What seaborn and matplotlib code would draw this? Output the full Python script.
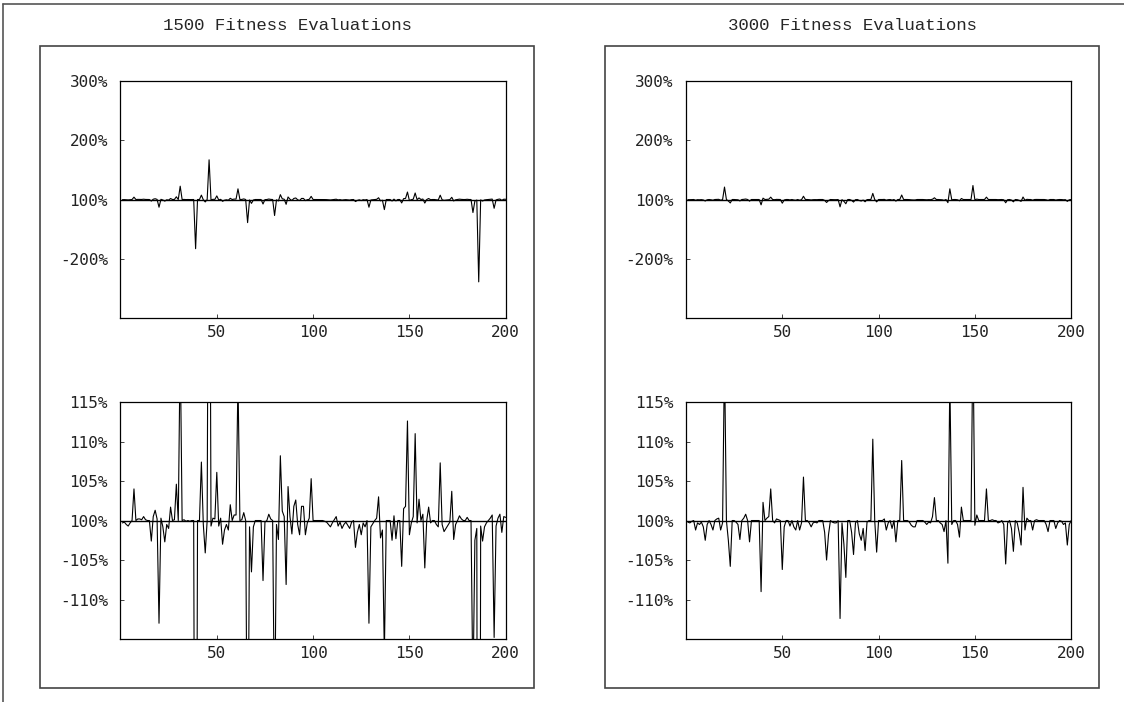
import numpy as np
import pandas as pd
import seaborn as sns
import matplotlib.pyplot as plt
from matplotlib.patches import Rectangle
from matplotlib.lines import Line2D

# deviation from the 100% baseline, generations 1..200
dev_1500 = [
    -0.3, -0.2, -0.5, -0.7, -0.3, 0, 4.0, 0, 0.2, 0.2,
    0.1, 0.5, 0.1, 0, 0, -2.6, 0.5, 1.3, 0.2, -13,
    0.3, -0.8, -2.7, -0.5, -1.0, 1.7, 0, 0.1, 4.6, 0,
    22.5, 0, 0.1, -0.1, 0, -0.1, 0, 0, -83, 0,
    0, 7.4, -0.5, -4.1, 0, 67, -0.7, 0.3, 0.2, 6.1,
    -0.7, 0.3, -3.0, -1.2, -0.5, -1.2, 2.0, 0, 0.7, 0.7,
    18, 0, 0.1, 1.0, 0, -39, -0.8, -6.5, -0.8, 0,
    0, 0, 0, -7.6, -0.2, 0, 0.8, 0.2, 0, -27,
    -0.5, -2.4, 8.2, 1.2, 0.5, -8.1, 4.3, 0.5, -1.7, 1.8,
    2.6, -0.5, -1.8, 1.8, 1.8, -1.8, -0.3, 0.3, 5.3, 0,
    0, 0, 0, 0, 0, -0.1, -0.2, -0.5, -0.8, -0.3,
    0.1, 0.5, -0.7, -0.2, -1.0, -0.5, -0.2, -0.6, -1.0, -0.2,
    0, -3.4, -1.5, -0.5, -1.8, -0.3, -0.8, 0, -13, -0.8,
    -0.4, 0, 0.3, 3.0, -2.2, -1.2, -17, 0, 0, 0,
    -2.5, 0.6, -2.3, 0, 0, -5.8, 1.5, 1.8, 12.6, -1.8,
    -0.3, 0.5, 11, -0.3, 2.7, 0, 0.8, -6, 0, 1.7,
    -0.3, 0, 0, -0.5, -0.8, 7.3, -0.5, -1.4, -1.0, -0.6,
    -0.2, 3.7, -2.4, -0.5, 0, 0.6, 0.2, 0, 0, 0.4,
    0, 0, -22, -2.5, -1, -139, -0.7, -2.6, -0.8, -0.3,
    0, 0.3, 0.7, -14.8, -0.7, 0.3, 0.8, -1.5, 0.5, 0.4,
]
dev_3000 = [
    -0.2, -0.3, -0.1, 0, -1.2, -0.3, -0.5, -0.2, -0.8, -2.5,
    -0.5, 0, -0.5, -1.2, 0, 0.2, 0.3, -1.2, -0.3, 21,
    0, -2.5, -5.8, 0, 0, -0.2, -0.5, -2.4, 0, 0.3,
    0.8, 0, -2.7, 0, 0, 0, 0, 0, -9, 2.3,
    0, 0.3, 0.5, 4, 0, -0.3, 0.2, 0.1, 0, -6.2,
    -0.8, 0, 0, -0.7, 0, -0.8, -1.2, 0, -1.2, -0.3,
    5.5, 0, 0, -0.3, -0.8, -0.3, -0.2, -0.3, 0, 0,
    0, -1.5, -5, -1.8, 0, -0.2, -0.3, -0.3, 0, -12.4,
    -0.3, -3, -7.2, 0, 0, -1.5, -4.3, -0.3, 0, -1.7,
    -2.5, -1, -3.8, -0.2, 0, 0, 10.3, 0, -4, 0,
    0, 0, 0.2, -1.2, -0.3, 0, -1, 0, -2.7, 0,
    0, 7.6, 0, 0, 0, -0.2, -0.6, -0.8, -0.8, 0,
    0, 0, 0, -0.2, -0.5, -0.2, -0.3, 0.5, 2.9, 0,
    0, -0.3, -0.5, -1.4, 0, -5.4, 18, -0.5, 0, 0,
    -0.5, -2.1, 1.7, 0, 0, 0, 0, 0, 23.6, -0.6,
    0.7, 0, 0, 0, 0, 4, 0, 0, 0.1, 0,
    0, -0.3, -0.2, 0, -0.5, -5.5, -0.3, 0, -1, -3.9,
    0, -0.3, -1.5, -3.1, 4.2, -1.2, 0.3, 0, 0, -1.2,
    0, 0.1, 0, 0, 0, 0, -0.5, -1.4, 0, 0,
    0, -1, -0.3, 0, -0.1, -0.5, -0.3, -3.1, -0.5, 0,
]
generation = np.arange(1, 201)

titles = ["1500 Fitness Evaluations", "3000 Fitness Evaluations"]
x_ticks = [50, 100, 150, 200]
top_ticks = [200, 100, 0, -100]
top_labels = ["300%", "200%", "100%", "-200%"]
low_ticks = [15, 10, 5, 0, -5, -10]
low_labels = ["115%", "110%", "105%", "100%", "-105%", "-110%"]

df = pd.DataFrame({"generation": np.tile(generation, 2),
                   "dev": dev_1500 + dev_3000,
                   "run": np.repeat(titles, 200)})

sns.set_style("white")
plt.rcParams["font.family"] = ["DejaVu Sans Mono", "DejaVu Sans"]

fig = plt.figure(figsize=(11.24, 7.02), dpi=100)

# frame around the whole page (only top and left visible)
fig.add_artist(Line2D([0.0027, 1.0], [0.9943, 0.9943], transform=fig.transFigure,
                      color="#555555", lw=1.2))
fig.add_artist(Line2D([0.0027, 0.0027], [0.0, 0.9943], transform=fig.transFigure,
                      color="#555555", lw=1.2))

box_left = [0.0356, 0.5385]
ax_left = [0.1072, 0.6103]

for k, run in enumerate(titles):
    fig.add_artist(Rectangle((box_left[k], 0.0199), 0.4395, 0.9146,
                             transform=fig.transFigure, fill=False,
                             edgecolor="#444444", lw=1.2))
    fig.text(box_left[k] + 0.4395 / 2, 1 - 25 / 702, run, ha="center", va="center",
             fontsize=12.5, family="Liberation Mono")

    sub = df[df["run"] == run]
    for bottom, lim, ticks, labels in [(0.547, 200, top_ticks, top_labels),
                                       (0.0897, 15, low_ticks, low_labels)]:
        ax = fig.add_axes([ax_left[k], bottom, 0.3427, 0.3376])
        ax.axhline(0, color="black", lw=1.0, zorder=1)
        sns.lineplot(data=sub, x="generation", y="dev", ax=ax,
                     color="black", lw=0.8, zorder=2)
        ax.set_xlim(0, 200)
        ax.set_ylim(-lim, lim)
        ax.set_xticks(x_ticks)
        ax.set_yticks(ticks)
        ax.set_yticklabels(labels)
        ax.set_xlabel("")
        ax.set_ylabel("")
        ax.tick_params(axis="both", direction="in", length=3, width=0.6,
                       labelsize=11.5, labelcolor="#222222",
                       left=True, bottom=True)
        ax.tick_params(axis="y", pad=9)
        ax.tick_params(axis="x", pad=5)
        for s in ax.spines.values():
            s.set_color("black")
            s.set_linewidth(0.9)

fig.savefig("out.png", dpi=100)
